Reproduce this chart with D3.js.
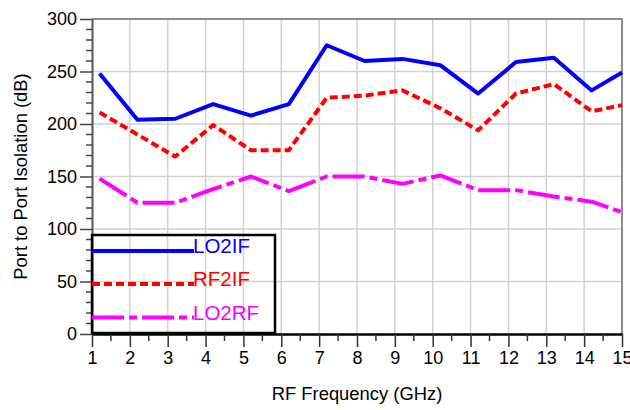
<!DOCTYPE html>
<html>
<head>
<meta charset="utf-8">
<script src="https://cdn.jsdelivr.net/npm/d3@7"></script>
<style>
  html, body { margin: 0; padding: 0; background: #fff; }
  svg { display: block; font-family: "Liberation Sans", Arial, sans-serif; }
</style>
</head>
<body>
<svg id="chart" width="630" height="410"></svg>
<script>
// RF frequency points (GHz)
const freqs = [1.2, 2.2, 3.2, 4.2, 5.2, 6.2, 7.2, 8.2, 9.2, 10.2, 11.2, 12.2, 13.2, 14.2, 15];

// Port-to-port isolation (dB)
const lo2if = [248, 204, 205, 219, 208, 219, 275, 260, 262, 256, 229, 259, 263, 232, 249];
const rf2if = [211, 190, 169, 199, 175, 175, 225, 227, 232, 215, 194, 229, 238, 212, 218];
const lo2rf = [148, 125, 125, 138, 150, 136, 150, 150, 143, 151, 137, 137, 131, 126, 116];

const xTicks = [1, 2, 3, 4, 5, 6, 7, 8, 9, 10, 11, 12, 13, 14, 15];
const yTicks = [0, 50, 100, 150, 200, 250, 300];

const seriesNames = ["LO2IF", "RF2IF", "LO2RF"];
const seriesColors = ["#0000ff", "#ff0000", "#ff00ff"];
const seriesDash = [null, "8,4", "32,5,8,5"];
const seriesValues = [lo2if, rf2if, lo2rf];

const svg = d3.select("#chart");
const m = { left: 92, right: 622, top: 19, bottom: 334 };

const x = d3.scaleLinear().domain([1, 15]).range([m.left, m.right]);
const y = d3.scaleLinear().domain([0, 300]).range([m.bottom, m.top]);

// grid
const grid = svg.append("g").attr("stroke", "#d2d2d2").attr("stroke-width", 1.5);
grid.selectAll("line.vx").data(xTicks.slice(1, -1)).join("line")
  .attr("x1", d => x(d)).attr("x2", d => x(d))
  .attr("y1", m.top).attr("y2", m.bottom);
grid.selectAll("line.hy").data(yTicks.slice(1, -1)).join("line")
  .attr("x1", m.left).attr("x2", m.right)
  .attr("y1", d => y(d)).attr("y2", d => y(d));

// frame top / right
svg.append("path")
  .attr("d", `M${m.left},${m.top}H${m.right}V${m.bottom}`)
  .attr("fill", "none").attr("stroke", "#8c8c8c").attr("stroke-width", 2);

// x axis
const xAxis = d3.axisBottom(x)
  .tickValues(xTicks).tickFormat(d3.format("d"))
  .tickSize(13).tickSizeOuter(0).tickPadding(4);
const gx = svg.append("g").attr("transform", `translate(0,${m.bottom})`).call(xAxis);
gx.select(".domain").attr("stroke", "#000").attr("stroke-width", 2.5);
gx.selectAll(".tick line").attr("stroke", "#333").attr("stroke-width", 1.5);
gx.selectAll(".tick text").attr("font-size", 18).attr("fill", "#000")
  .attr("font-family", "Liberation Sans, Arial, sans-serif");
const xMinor = d3.range(1.5, 15, 1);
gx.selectAll("line.minor").data(xMinor).join("line").attr("class", "minor")
  .attr("x1", d => x(d)).attr("x2", d => x(d)).attr("y1", 0).attr("y2", 7)
  .attr("stroke", "#333").attr("stroke-width", 1.5);

// y axis
const yAxis = d3.axisLeft(y)
  .tickValues(yTicks).tickFormat(d3.format("d"))
  .tickSize(12).tickSizeOuter(0).tickPadding(3);
const gy = svg.append("g").attr("transform", `translate(${m.left},0)`).call(yAxis);
gy.select(".domain").attr("stroke", "#555").attr("stroke-width", 2);
gy.selectAll(".tick line").attr("stroke", "#444").attr("stroke-width", 1.5);
gy.selectAll(".tick text").attr("font-size", 18).attr("fill", "#000")
  .attr("font-family", "Liberation Sans, Arial, sans-serif");
const yMinor = d3.range(10, 300, 10).filter(v => v % 50 !== 0);
gy.selectAll("line.minor").data(yMinor).join("line").attr("class", "minor")
  .attr("x1", -6).attr("x2", 0).attr("y1", d => y(d)).attr("y2", d => y(d))
  .attr("stroke", "#444").attr("stroke-width", 1.5);

// series
const line = d3.line().x((d, i) => x(freqs[i])).y(d => y(d));
seriesValues.forEach((vals, k) => {
  svg.append("path").datum(vals)
    .attr("d", line)
    .attr("fill", "none")
    .attr("stroke", seriesColors[k])
    .attr("stroke-width", 4)
    .attr("stroke-linejoin", "round")
    .attr("stroke-dasharray", seriesDash[k]);
});

// legend
const lg = svg.append("g");
lg.append("rect")
  .attr("x", 92).attr("y", 235).attr("width", 183).attr("height", 98)
  .attr("fill", "none").attr("stroke", "#000").attr("stroke-width", 2.5);
const legendY = [251, 284, 317.5];
seriesNames.forEach((name, k) => {
  lg.append("line")
    .attr("x1", 92).attr("x2", 194)
    .attr("y1", legendY[k]).attr("y2", legendY[k])
    .attr("stroke", seriesColors[k]).attr("stroke-width", 4)
    .attr("stroke-dasharray", seriesDash[k]);
  lg.append("text")
    .attr("x", 193).attr("y", legendY[k] + 2)
    .attr("font-size", 20.5).attr("fill", seriesColors[k])
    .text(name);
});

// axis titles
svg.append("text")
  .attr("x", (m.left + m.right) / 2).attr("y", 400)
  .attr("text-anchor", "middle").attr("font-size", 18.4)
  .text("RF Frequency (GHz)");
svg.append("text")
  .attr("transform", `translate(27,${(m.top + m.bottom) / 2}) rotate(-90)`)
  .attr("text-anchor", "middle").attr("font-size", 18.4)
  .text("Port to Port Isolation (dB)");
</script>
</body>
</html>
